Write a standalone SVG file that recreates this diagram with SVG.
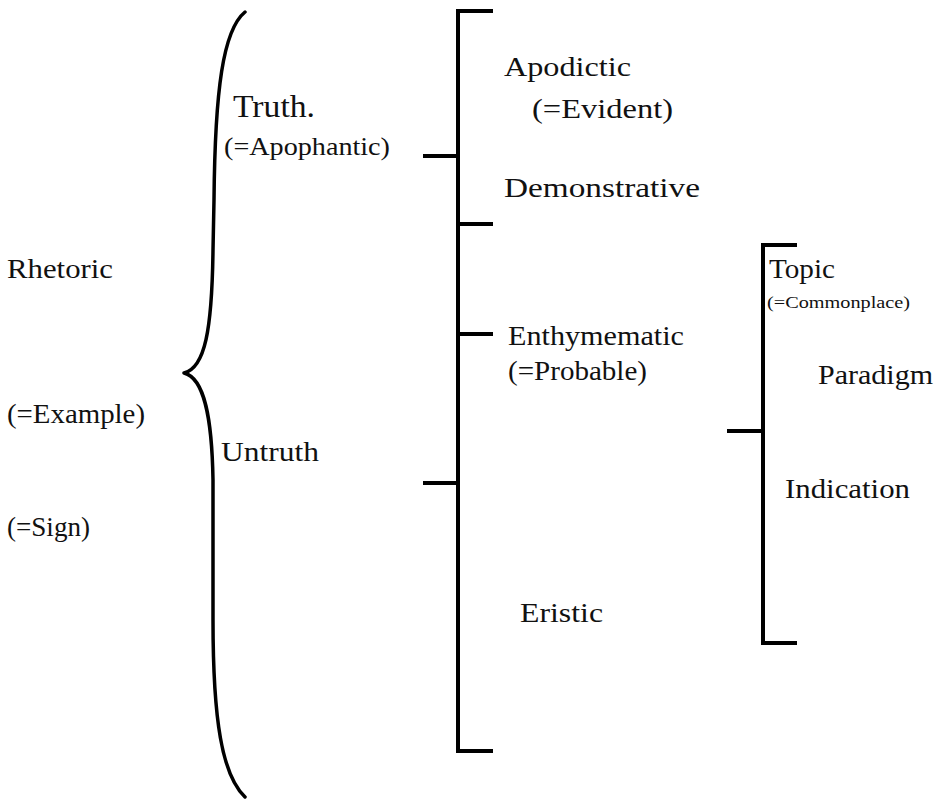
<svg xmlns="http://www.w3.org/2000/svg" width="944" height="799" viewBox="0 0 944 799">
  <style>
    .t { font-family: "Liberation Serif", "Times New Roman", serif; font-size: 28px; fill: #111; }
    .big { font-size: 31px; }
    .mid { font-size: 25px; }
    .small { font-size: 16px; }
    .ln { fill: none; stroke: #000; stroke-width: 4; stroke-linejoin: miter; stroke-linecap: butt; }
    .brace { fill: none; stroke: #000; stroke-width: 3.5; stroke-linejoin: round; stroke-linecap: round; }
  </style>
  <rect width="944" height="799" fill="#fff"/>
  <g id="connectors">
    <path class="brace" d="M245,12 C223,30 215,90 214,200 L213,250 C212,330 205,368 184,373 C205,378 212,420 213,480 L213,620 C213,720 222,775 245,797"/>
    <path class="ln" d="M493,11 H458 V751 H493"/>
    <path class="ln" d="M423,156 H458"/>
    <path class="ln" d="M458,224 H493"/>
    <path class="ln" d="M458,334 H493"/>
    <path class="ln" d="M423,483 H458"/>
    <path class="ln" d="M797,245 H763 V643 H797"/>
    <path class="ln" d="M727,431 H763"/>
  </g>
  <g id="rhetoric">
    <text class="t" x="7" y="278" textLength="106" lengthAdjust="spacingAndGlyphs">Rhetoric</text>
  </g>
  <g id="example">
    <text class="t" x="7" y="423" textLength="138" lengthAdjust="spacingAndGlyphs">(=Example)</text>
  </g>
  <g id="sign">
    <text class="t" x="7" y="536" textLength="83" lengthAdjust="spacingAndGlyphs">(=Sign)</text>
  </g>
  <g id="truth">
    <text class="t big" x="233" y="117" textLength="82" lengthAdjust="spacingAndGlyphs">Truth.</text>
    <text class="t mid" x="224" y="155" textLength="166" lengthAdjust="spacingAndGlyphs">(=Apophantic)</text>
  </g>
  <g id="untruth">
    <text class="t" x="221" y="461" textLength="98" lengthAdjust="spacingAndGlyphs">Untruth</text>
  </g>
  <g id="apodictic">
    <text class="t" x="504" y="76" textLength="127" lengthAdjust="spacingAndGlyphs">Apodictic</text>
    <text class="t" x="532" y="118" textLength="141" lengthAdjust="spacingAndGlyphs">(=Evident)</text>
  </g>
  <g id="demonstrative">
    <text class="t" x="504" y="197" textLength="196" lengthAdjust="spacingAndGlyphs">Demonstrative</text>
  </g>
  <g id="enthymematic">
    <text class="t" x="508" y="345" textLength="176" lengthAdjust="spacingAndGlyphs">Enthymematic</text>
    <text class="t" x="508" y="380" textLength="139" lengthAdjust="spacingAndGlyphs">(=Probable)</text>
  </g>
  <g id="eristic">
    <text class="t" x="520" y="622" textLength="83" lengthAdjust="spacingAndGlyphs">Eristic</text>
  </g>
  <g id="topic">
    <text class="t" x="769" y="278" textLength="66" lengthAdjust="spacingAndGlyphs">Topic</text>
    <text class="t small" x="767" y="308" textLength="143" lengthAdjust="spacingAndGlyphs">(=Commonplace)</text>
  </g>
  <g id="paradigm">
    <text class="t" x="818" y="384" textLength="115" lengthAdjust="spacingAndGlyphs">Paradigm</text>
  </g>
  <g id="indication">
    <text class="t" x="785" y="498" textLength="125" lengthAdjust="spacingAndGlyphs">Indication</text>
  </g>
</svg>
